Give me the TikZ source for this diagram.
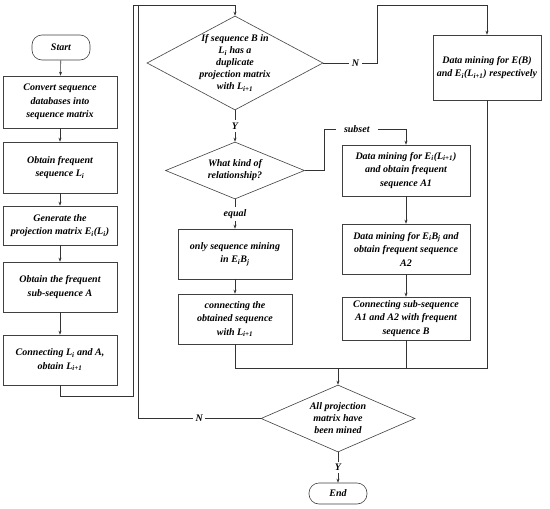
\documentclass[tikz,border=0pt]{standalone}
\usepackage{fontspec}
\setmainfont{Liberation Serif}
\usetikzlibrary{shapes.geometric, arrows.meta, positioning, calc}
\tikzstyle{process} = [rectangle, minimum width=114pt, minimum height=50pt, align=center, draw=black!75, fill=white, line width=0.6pt, inner sep=1pt]
\tikzstyle{decision} = [diamond, align=center, draw=black!75, fill=white, line width=0.6pt, inner sep=-15pt, font=\bfseries\itshape\fontsize{10}{12}\selectfont]
\tikzstyle{startstop} = [rectangle, rounded corners=10pt, minimum width=58pt, minimum height=25pt, draw=black!75, fill=white, line width=0.6pt]
\tikzstyle{arrow} = [line width=0.6pt, ->, >={Stealth[length=4pt,width=3pt]}, black!80]
\tikzstyle{line} = [line width=0.6pt, black!80]
\tikzstyle{lbl} = [fill=white, inner sep=2.5pt, text=black, font=\bfseries\itshape\fontsize{10}{12}\selectfont]
\newcommand{\idx}[1]{\textsubscript{#1}}

\begin{document}
\begin{tikzpicture}[x=1pt, y=-1pt, font=\bfseries\itshape\fontsize{10}{13.5}\selectfont]
            \useasboundingbox (0,0) rectangle (550,509);
            \node (start) [startstop] at (61,47.5) {Start};
            \node (convert) [process, minimum height=52pt] at (60,102) {Convert sequence\\databases into\\sequence matrix};
            \node (freq) [process, minimum height=51pt] at (60,167.5) {Obtain frequent\\sequence L\idx{i}};
            \node (proj) [process, minimum height=39pt] at (60,225.5) {Generate the\\projection matrix E\idx{i}(L\idx{i})};
            \node (subA) [process] at (60,287) {Obtain the frequent\\sub-sequence A};
            \node (connA) [process] at (60,360) {Connecting L\idx{i} and A,\\obtain L\idx{i+1}};

            \node (dup) [decision, minimum width=176pt, minimum height=94pt] at (235,63) {If sequence B in\\L\idx{i} has a\\duplicate\\projection matrix\\with L\idx{i+1}};
            \node (mineB) [process, minimum width=108pt, minimum height=65pt] at (487,67.5) {Data mining for E(B)\\and E\idx{i}(L\idx{i+1}) respectively};
            \node (kind) [decision, minimum width=139pt, minimum height=57pt] at (235,170.5) {What kind of\\relationship?};
            \node (mineL) [process, minimum width=128pt, minimum height=51pt] at (406,170.5) {Data mining for E\idx{i}(L\idx{i+1})\\and obtain frequent\\sequence A1};
            \node (mineEB) [process, minimum width=128pt] at (406,249) {Data mining for E\idx{i}B\idx{j} and\\obtain frequent sequence\\A2};
            \node (linkAB) [process, minimum width=128pt, minimum height=43pt] at (406,318.5) {Connecting sub-sequence\\A1 and A2 with frequent\\sequence B};
            \node (seqmine) [process] at (235,254) {only sequence mining\\in E\idx{i}B\idx{j}};
            \node (obtconn) [process] at (235,319) {connecting the\\obtained sequence\\with L\idx{i+1}};
            \node (alldone) [decision, minimum width=154pt, minimum height=67pt] at (338,418.5) {All projection\\matrix have\\been mined};
            \node (stop) [startstop, minimum height=21pt] at (338,493.5) {End};

            \coordinate (loopa) at (133,396);
            \coordinate (topa) at (133,5);
            \coordinate (loopb) at (138,418.5);
            \coordinate (topb) at (138,5);
            \coordinate (nup) at (377,5);
            \coordinate (subup) at (324,129);
            \coordinate (merge) at (338,368);

            \draw [arrow] (start) -- (convert);
            \draw [arrow] (convert) -- (freq);
            \draw [arrow] (freq) -- (proj);
            \draw [arrow] (proj) -- (subA);
            \draw [arrow] (subA) -- (connA);
            \draw [arrow] (connA.south) |- (loopa) -- (topa) -| (dup.north);
            \draw [line] (alldone.west) -- node[lbl] {N} (loopb) -- (topb);
            \draw [arrow] (dup.east) -- node[lbl, pos=0.6] {N} (dup.east -| nup) -- (nup) -| (mineB.north);
            \draw [arrow] (dup) -- node[lbl] {Y} (kind);
            \draw [arrow] (kind.east) -| (subup) -- node[lbl, pos=0.4, inner xsep=8pt] {subset} (subup -| mineL) -- (mineL);
            \draw [arrow] (kind) -- node[lbl, inner xsep=8pt] {equal} (seqmine);
            \draw [arrow] (seqmine) -- (obtconn);
            \draw [arrow] (mineL) -- (mineEB);
            \draw [arrow] (mineEB) -- (linkAB);
            \draw [line] (mineB.south) |- (obtconn.south |- merge);
            \draw [line] (obtconn.south) -- (obtconn.south |- merge);
            \draw [line] (linkAB.south) -- (linkAB.south |- merge);
            \draw [arrow] (merge) -- (alldone.north);
            \draw [arrow] (alldone) -- node[lbl] {Y} (stop);
        \end{tikzpicture}
\end{document}
